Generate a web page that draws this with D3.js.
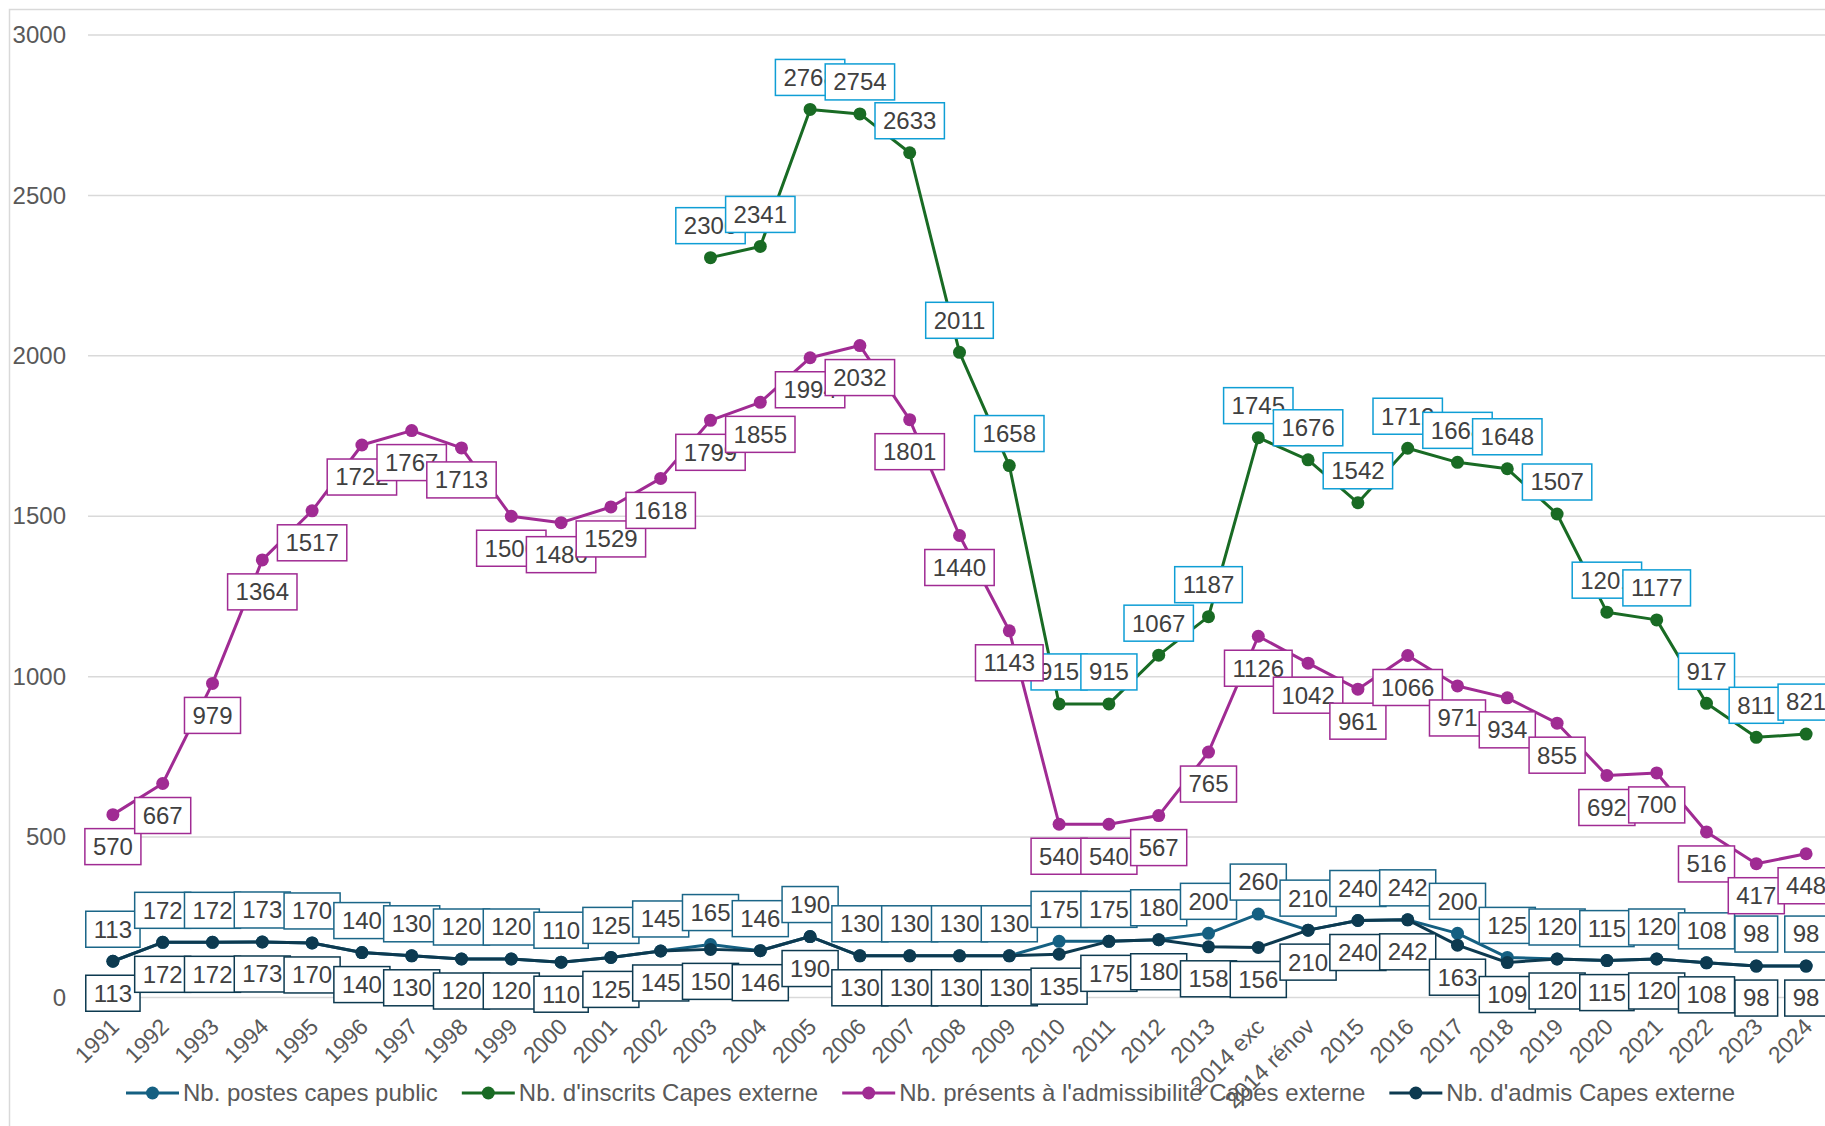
<!DOCTYPE html>
<html>
<head>
<meta charset="utf-8">
<script src="https://cdn.jsdelivr.net/npm/d3@7"></script>
<style>
  body { margin: 0; background: #fff; }
  svg { display: block; font-family: "Liberation Sans", Arial, sans-serif; }
</style>
</head>
<body>
<svg id="chart" width="1825" height="1126"></svg>
<script>
// categories (x axis)
const years = ['1991', '1992', '1993', '1994', '1995', '1996', '1997', '1998', '1999', '2000',
  '2001', '2002', '2003', '2004', '2005', '2006', '2007', '2008', '2009', '2010', '2011', '2012',
  '2013', '2014 exc', '2014 rénov', '2015', '2016', '2017', '2018', '2019', '2020', '2021',
  '2022', '2023', '2024'];

const postes = [113, 172, 172, 173, 170, 140, 130, 120, 120, 110, 125, 145, 165, 146, 190,
  130, 130, 130, 130, 175, 175, 180, 200, 260, 210, 240, 242, 200, 125, 120, 115, 120, 108, 98, 98];

const inscrits = [null, null, null, null, null, null, null, null, null, null, null, null,
  2306, 2341, 2768, 2754, 2633, 2011, 1658, 915, 915, 1067, 1187, 1745, 1676, 1542, 1712,
  1668, 1648, 1507, 1201, 1177, 917, 811, 821];

const presents = [570, 667, 979, 1364, 1517, 1722, 1767, 1713, 1500, 1480, 1529, 1618, 1799,
  1855, 1994, 2032, 1801, 1440, 1143, 540, 540, 567, 765, 1126, 1042, 961, 1066, 971, 934,
  855, 692, 700, 516, 417, 448];

const admis = [113, 172, 172, 173, 170, 140, 130, 120, 120, 110, 125, 145, 150, 146, 190,
  130, 130, 130, 130, 135, 175, 180, 158, 156, 210, 240, 242, 163, 109, 120, 115, 120, 108, 98, 98];

const yTicks = [0, 500, 1000, 1500, 2000, 2500, 3000];

const series = [
  {name: 'Nb. postes capes public', values: postes, color: '#156082', border: '#1b6688', pos: -1},
  {name: "Nb. d'inscrits Capes externe", values: inscrits, color: '#196b24', border: '#0f9ed5', pos: -1},
  {name: "Nb. présents à l'admissibilité Capes externe", values: presents, color: '#a02b93', border: '#a02b93', pos: 1},
  {name: "Nb. d'admis Capes externe", values: admis, color: '#0d3a50', border: '#0d3a50', pos: 1}
];

const width = 1825;
const height = 1126;
const plot = {left: 88, right: 1831, top: 35, bottom: 997.5};

const svg = d3.select('#chart');

// outer chart border
svg.append('rect')
  .attr('x', 9.5).attr('y', 9.5)
  .attr('width', width).attr('height', height)
  .attr('fill', 'none')
  .attr('stroke', '#d9d9d9')
  .attr('stroke-width', 1.5);

const x = d3.scalePoint()
  .domain(years)
  .range([plot.left, plot.right])
  .padding(0.5);

const y = d3.scaleLinear()
  .domain([0, 3000])
  .range([plot.bottom, plot.top]);

// gridlines
svg.append('g')
  .selectAll('line')
  .data(yTicks)
  .join('line')
  .attr('x1', plot.left)
  .attr('x2', plot.right)
  .attr('y1', d => y(d))
  .attr('y2', d => y(d))
  .attr('stroke', '#d9d9d9')
  .attr('stroke-width', 1.5);

// y axis labels
const yAxis = d3.axisLeft(y).tickValues(yTicks).tickFormat(d3.format('d')).tickSize(0).tickPadding(0);
svg.append('g')
  .attr('transform', 'translate(66,0)')
  .call(yAxis)
  .call(g => g.select('.domain').remove())
  .call(g => g.selectAll('text')
    .attr('fill', '#595959')
    .style('font-size', '24px')
    .style('font-family', '"Liberation Sans", Arial, sans-serif'));

// x axis labels, rotated
svg.append('g')
  .selectAll('text')
  .data(years)
  .join('text')
  .attr('transform', d => `translate(${x(d) - 4},${plot.bottom + 19}) rotate(-45)`)
  .attr('text-anchor', 'end')
  .attr('dy', '0.72em')
  .attr('fill', '#595959')
  .style('font-size', '23px')
  .text(d => d);

// lines and markers
const line = d3.line()
  .defined(d => d.value != null)
  .x(d => x(d.year))
  .y(d => y(d.value));

series.forEach(s => {
  const pts = years.map((yr, i) => ({year: yr, value: s.values[i]}));
  const g = svg.append('g');
  g.append('path')
    .datum(pts)
    .attr('d', line)
    .attr('fill', 'none')
    .attr('stroke', s.color)
    .attr('stroke-width', 3)
    .attr('stroke-linejoin', 'round');
  g.selectAll('circle')
    .data(pts.filter(d => d.value != null))
    .join('circle')
    .attr('cx', d => x(d.year))
    .attr('cy', d => y(d.value))
    .attr('r', 6.5)
    .attr('fill', s.color);
});

// data labels
series.forEach(s => {
  const pts = years.map((yr, i) => ({year: yr, value: s.values[i]}))
    .filter(d => d.value != null);
  pts.forEach(d => {
    const cx = x(d.year);
    const cy = y(d.value) + s.pos * 32;
    const g = svg.append('g');
    const rect = g.append('rect');
    const t = g.append('text')
      .attr('x', cx)
      .attr('y', cy)
      .attr('dy', '0.35em')
      .attr('text-anchor', 'middle')
      .attr('fill', '#404040')
      .style('font-size', '24px')
      .text(d.value);
    const w = t.node().getComputedTextLength() + 16;
    rect.attr('x', cx - w / 2)
      .attr('y', cy - 18)
      .attr('width', w)
      .attr('height', 36)
      .attr('fill', '#fff')
      .attr('stroke', s.border)
      .attr('stroke-width', 1.5);
  });
});

// legend
const legend = svg.append('g').attr('transform', 'translate(126,1093)');
let lx = 0;
series.forEach(s => {
  const item = legend.append('g').attr('transform', `translate(${lx},0)`);
  item.append('line')
    .attr('x1', 0).attr('x2', 53)
    .attr('stroke', s.color)
    .attr('stroke-width', 3);
  item.append('circle')
    .attr('cx', 26.5)
    .attr('r', 6.5)
    .attr('fill', s.color);
  const t = item.append('text')
    .attr('x', 57)
    .attr('dy', '0.35em')
    .attr('fill', '#595959')
    .style('font-size', '24px')
    .text(s.name);
  lx += 57 + t.node().getComputedTextLength() + 24;
});
</script>
</body>
</html>
